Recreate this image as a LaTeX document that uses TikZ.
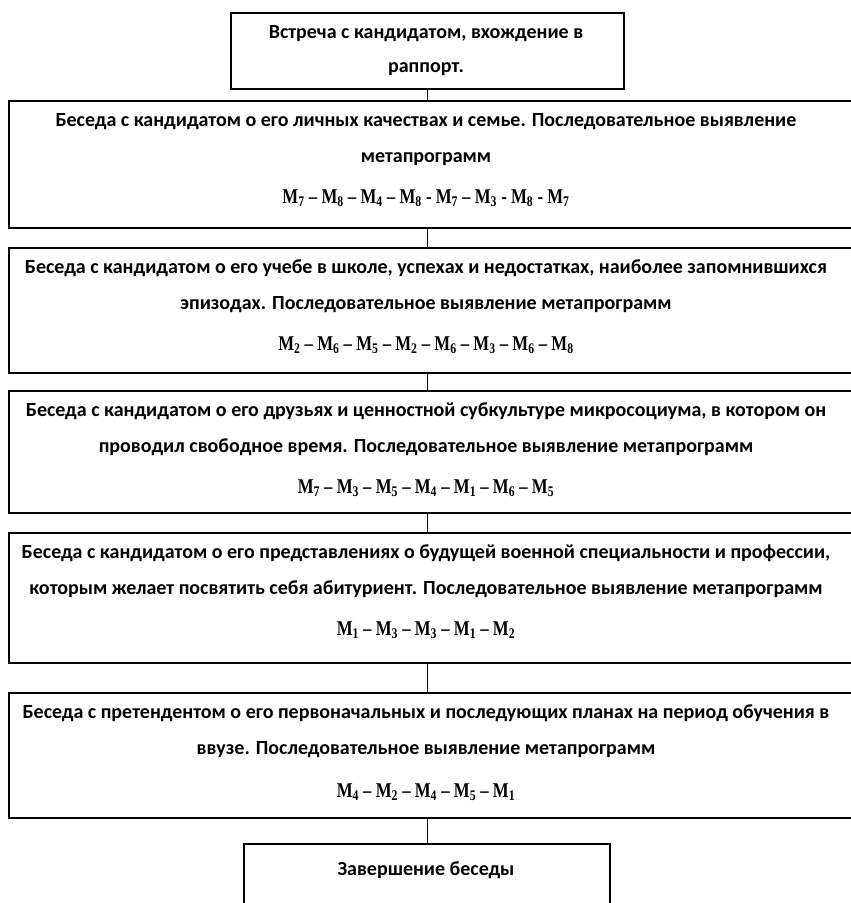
\documentclass[tikz,border=0pt]{standalone}
\usepackage{fontspec}
\setmainfont{Carlito}
\newfontfamily\formfont[FakeStretch=0.8]{Liberation Serif}
\newcommand{\Msub}[1]{M\textsubscript{#1}}
\tikzset{
  boxshape/.style={draw=black, line width=1.8pt, inner sep=0pt, anchor=north west},
  txt/.style={font=\bfseries\fontsize{20}{24}\selectfont, inner sep=0pt, anchor=base},
  formula/.style={font=\formfont\bfseries\fontsize{21}{24}\selectfont, inner sep=0pt, anchor=base},
  link/.style={line width=1.8pt}
}
\begin{document}
\begin{tikzpicture}[x=1pt,y=1pt]
\useasboundingbox (0,0) rectangle (851,-903);
\clip (0,0) rectangle (851,-903);
% boxes
\node[boxshape, minimum width=393, minimum height=76] (b1) at (230,-12) {};
\node[boxshape, minimum width=860, minimum height=127] (b2) at (8,-100) {};
\node[boxshape, minimum width=860, minimum height=125] (b3) at (8,-247) {};
\node[boxshape, minimum width=860, minimum height=122] (b4) at (8,-390) {};
\node[boxshape, minimum width=860, minimum height=130] (b5) at (8,-532) {};
\node[boxshape, minimum width=860, minimum height=125] (b6) at (8,-692) {};
\node[boxshape, minimum width=366, minimum height=100] (b7) at (243,-843) {};
% connectors
\draw[link] (b1.south) -- (b1.south |- b2.north);
\draw[link] (b1.south |- b2.south) -- (b1.south |- b3.north);
\draw[link] (b1.south |- b3.south) -- (b1.south |- b4.north);
\draw[link] (b1.south |- b4.south) -- (b1.south |- b5.north);
\draw[link] (b1.south |- b5.south) -- (b1.south |- b6.north);
\draw[link] (b1.south |- b6.south) -- (b1.south |- b7.north);
% texts
\node[txt] (t1a) at (426,-38) {Встреча с кандидатом, вхождение в};
\node[txt] (t1b) at (426,-72) {раппорт.};

\node[txt] (t2a) at (426,-126) {Беседа с кандидатом о его личных качествах и семье. Последовательное выявление};
\node[txt] (t2b) at (426,-162) {метапрограмм};
\node[formula] (f2) at (426,-203) {\Msub{7} – \Msub{8} – \Msub{4} – \Msub{8} - \Msub{7} – \Msub{3} - \Msub{8} - \Msub{7}};

\node[txt] (t3a) at (426,-273) {Беседа с кандидатом о его учебе в школе, успехах и недостатках, наиболее запомнившихся};
\node[txt] (t3b) at (426,-309) {эпизодах. Последовательное выявление метапрограмм};
\node[formula] (f3) at (426,-350) {\Msub{2} – \Msub{6} – \Msub{5} – \Msub{2} – \Msub{6} – \Msub{3} – \Msub{6} – \Msub{8}};

\node[txt] (t4a) at (426,-416) {Беседа с кандидатом о его друзьях и ценностной субкультуре микросоциума, в котором он};
\node[txt] (t4b) at (426,-452) {проводил свободное время. Последовательное выявление метапрограмм};
\node[formula] (f4) at (426,-493) {\Msub{7} – \Msub{3} – \Msub{5} – \Msub{4} – \Msub{1} – \Msub{6} – \Msub{5}};

\node[txt] (t5a) at (426,-558) {Беседа с кандидатом о его представлениях о будущей военной специальности и профессии,};
\node[txt] (t5b) at (426,-594) {которым желает посвятить себя абитуриент. Последовательное выявление метапрограмм};
\node[formula] (f5) at (426,-635) {\Msub{1} – \Msub{3} – \Msub{3} – \Msub{1} – \Msub{2}};

\node[txt] (t6a) at (426,-718) {Беседа с претендентом о его первоначальных и последующих планах на период обучения в};
\node[txt] (t6b) at (426,-754) {ввузе. Последовательное выявление метапрограмм};
\node[formula] (f6) at (426,-797) {\Msub{4} – \Msub{2} – \Msub{4} – \Msub{5} – \Msub{1}};

\node[txt] (t7) at (426,-875) {Завершение беседы};
\end{tikzpicture}
\end{document}
